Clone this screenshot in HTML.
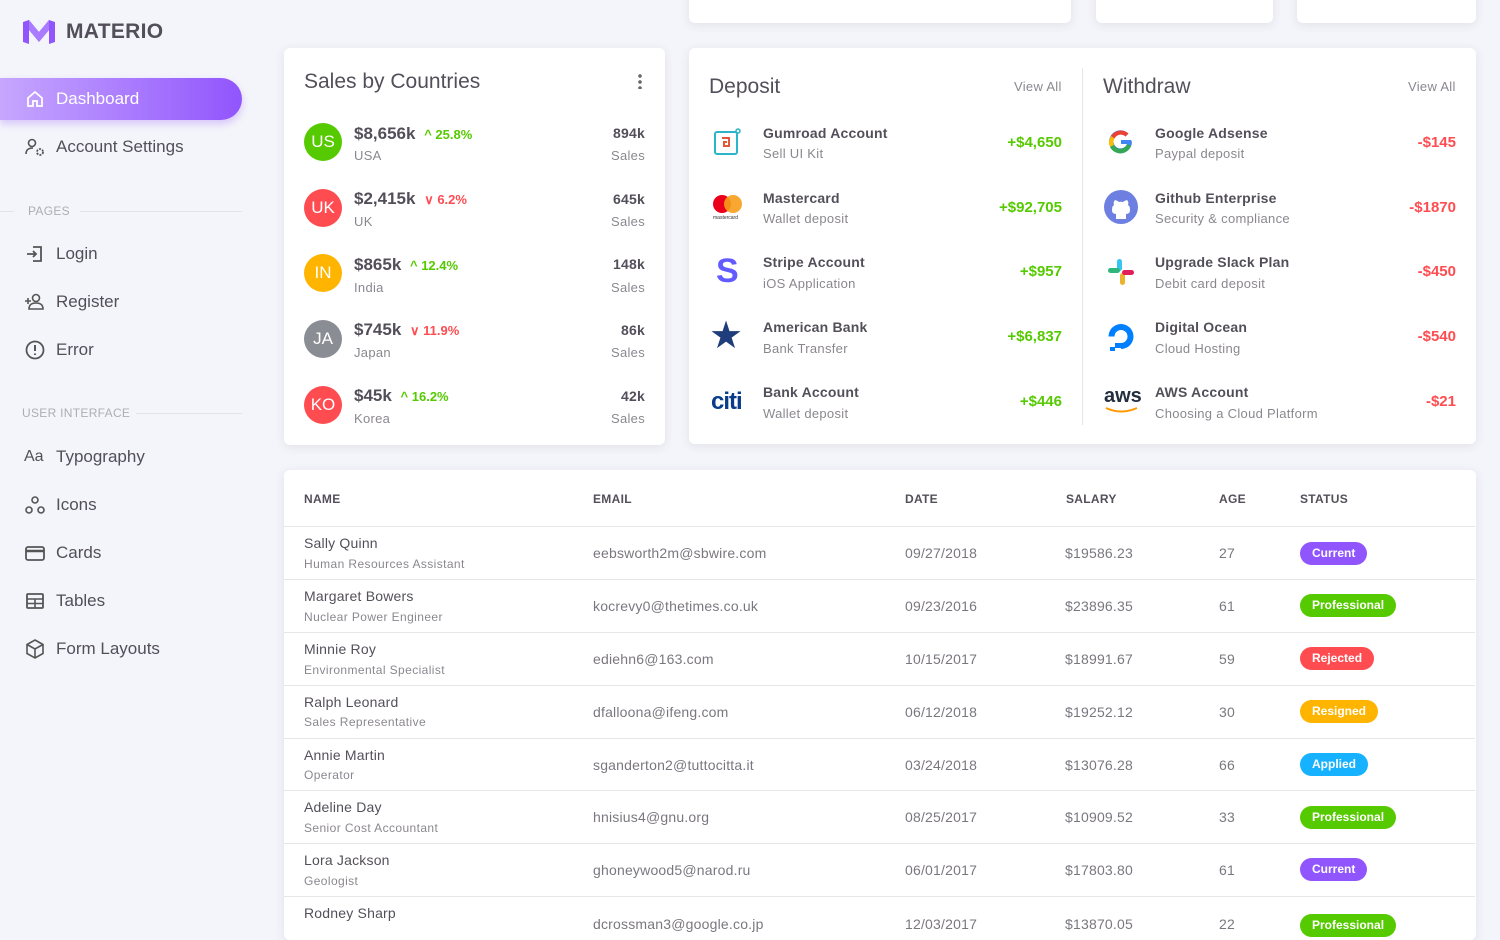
<!DOCTYPE html>
<html><head><meta charset="utf-8"><style>
*{box-sizing:border-box;margin:0;padding:0}
body{width:1500px;height:920px;overflow:hidden;background:#f4f5fa;font-family:"Liberation Sans",sans-serif;color:rgba(58,53,65,.87);position:relative}
.a{position:absolute;white-space:nowrap}
.card{position:absolute;background:#fff;border-radius:6px;box-shadow:0 2px 10px rgba(58,53,65,.1)}
.nav{position:absolute;left:24px;font-size:17px;color:rgba(58,53,65,.87);display:flex;align-items:center;height:24px}
.nav .ic{width:22px;height:22px;margin-right:10px;display:inline-block}
.sec{position:absolute;font-size:12px;color:rgba(58,53,65,.38);letter-spacing:.3px}
.hl{position:absolute;height:1px;background:#e3e2e6}
.av{position:absolute;width:38px;height:38px;border-radius:50%;color:#fff;font-size:17px;display:flex;align-items:center;justify-content:center;left:304px}
.v{position:absolute;left:354px;font-size:17px;font-weight:bold;color:rgba(58,53,65,.87)}
.s{position:absolute;font-size:13px;color:rgba(58,53,65,.6);letter-spacing:.3px}
.t{position:absolute;font-size:14px;font-weight:bold;color:rgba(58,53,65,.87);letter-spacing:.2px}
.amt{position:absolute;font-size:15px;font-weight:bold;text-align:right}
.th{position:absolute;top:492px;font-size:12px;font-weight:bold;color:rgba(58,53,65,.87);letter-spacing:.3px}
.rl{position:absolute;left:284px;width:1191px;height:1px;background:#e6e5e8}
.td{position:absolute;font-size:14px;color:rgba(58,53,65,.68);letter-spacing:.2px}
.nm{position:absolute;left:304px;font-size:14px;color:rgba(58,53,65,.87);letter-spacing:.2px}
.jb{position:absolute;left:304px;font-size:12px;color:rgba(58,53,65,.6);letter-spacing:.4px}
.bd{position:absolute;left:1300px;height:23px;border-radius:12px;color:#fff;font-size:12px;font-weight:bold;padding:0 12px;line-height:23px}
.pc{font-size:13px;margin-left:4px}
</style></head><body>

<div class="card" style="left:689px;top:-20px;width:382px;height:43px"></div>
<div class="card" style="left:1096px;top:-20px;width:177px;height:43px"></div>
<div class="card" style="left:1297px;top:-20px;width:179px;height:43px"></div>

<svg class="a" style="left:23px;top:20px" width="32" height="24" viewBox="0 0 32 24"><path d="M0 2 L6 0 L16 12 L26 0 L32 2 L32 22 L26 24 L26 10 L16 22 L6 10 L6 24 L0 22Z" fill="#9155fd"/><path d="M6 0 L16 12 L26 0 L26 10 L16 22 L6 10Z" fill="#b48bff" opacity=".7"/></svg>
<div class="a" style="left:66px;top:20px;font-size:21px;font-weight:bold;color:rgba(58,53,65,.87);letter-spacing:.3px">MATERIO</div>
<div class="a" style="left:0;top:78px;width:242px;height:42px;border-radius:0 21px 21px 0;background:linear-gradient(90deg,#c6a7fe,#9155fd);box-shadow:0 4px 8px rgba(145,85,253,.3)"></div>
<div class="nav" style="top:87px;color:#fff"><svg class="ic" viewBox="0 0 22 22"><path d="M4 10 L11 4 L18 10 V18 H13 V13 H9 V18 H4Z" fill="none" stroke="#fff" stroke-width="1.8"/></svg>Dashboard</div>
<div class="nav" style="top:135px"><svg class="ic" viewBox="0 0 22 22"><circle cx="8" cy="7" r="3.5" fill="none" stroke="#555" stroke-width="1.6"/><path d="M2 18 Q2 12 9 12" fill="none" stroke="#555" stroke-width="1.6"/><circle cx="16" cy="16" r="3" fill="none" stroke="#555" stroke-width="1.8" stroke-dasharray="2 1.2"/></svg>Account Settings</div>
<div class="hl" style="left:0;top:211px;width:14px"></div><div class="sec" style="left:28px;top:204px">PAGES</div><div class="hl" style="left:80px;top:211px;width:162px"></div>
<div class="nav" style="top:242px"><svg class="ic" viewBox="0 0 22 22"><path d="M9 4 H17 V18 H9 M3 11 H12 M9 8 L12 11 L9 14" fill="none" stroke="#555" stroke-width="1.8"/></svg>Login</div>
<div class="nav" style="top:290px"><svg class="ic" viewBox="0 0 22 22"><circle cx="12" cy="7" r="3.5" fill="none" stroke="#555" stroke-width="1.6"/><path d="M5 18 Q5 12 12 12 Q19 12 19 18Z M1 10 H7 M4 7 V13" fill="none" stroke="#555" stroke-width="1.6"/></svg>Register</div>
<div class="nav" style="top:338px"><svg class="ic" viewBox="0 0 22 22"><circle cx="11" cy="11" r="8.5" fill="none" stroke="#555" stroke-width="1.8"/><path d="M11 6 V12 M11 14.5 V16" stroke="#555" stroke-width="2"/></svg>Error</div>
<div class="sec" style="left:22px;top:406px">USER INTERFACE</div><div class="hl" style="left:136px;top:413px;width:106px"></div>
<div class="nav" style="top:445px"><span class="ic" style="font-size:16px;line-height:22px">Aa</span>Typography</div>
<div class="nav" style="top:493px"><svg class="ic" viewBox="0 0 22 22"><circle cx="11" cy="6" r="3" fill="none" stroke="#555" stroke-width="1.6"/><circle cx="5" cy="16" r="3" fill="none" stroke="#555" stroke-width="1.6"/><circle cx="17" cy="16" r="3" fill="none" stroke="#555" stroke-width="1.6"/></svg>Icons</div>
<div class="nav" style="top:541px"><svg class="ic" viewBox="0 0 22 22"><rect x="2" y="5" width="18" height="13" rx="2" fill="none" stroke="#555" stroke-width="1.8"/><path d="M2 9 H20" stroke="#555" stroke-width="2.5"/></svg>Cards</div>
<div class="nav" style="top:589px"><svg class="ic" viewBox="0 0 22 22"><rect x="3" y="4" width="16" height="14" rx="1" fill="none" stroke="#555" stroke-width="1.8"/><path d="M3 9 H19 M3 13.5 H19 M11 9 V18" stroke="#555" stroke-width="1.6"/></svg>Tables</div>
<div class="nav" style="top:637px"><svg class="ic" viewBox="0 0 22 22"><path d="M11 2 L19 6.5 V15.5 L11 20 L3 15.5 V6.5Z M3 6.5 L11 11 L19 6.5 M11 11 V20" fill="none" stroke="#555" stroke-width="1.6"/></svg>Form Layouts</div>

<div class="card" style="left:284px;top:48px;width:381px;height:397px"></div>
<div class="a" style="left:304px;top:70px;font-size:21px;color:rgba(58,53,65,.87)">Sales by Countries</div>
<div class="a" style="left:638px;top:73px;width:4px;height:16px;background:radial-gradient(circle,#666 1.6px,transparent 2px) 0 0/4px 6px"></div>

<div class="av" style="top:123px;background:#56ca00">US</div>
<div class="v" style="top:124px">$8,656k <span class="pc" style="color:#56ca00">^ 25.8%</span></div>
<div class="s" style="left:354px;top:148px">USA</div>
<div class="t" style="right:855px;top:125px">894k</div><div class="s" style="right:855px;top:148px">Sales</div>

<div class="av" style="top:189px;background:#ff4c51">UK</div>
<div class="v" style="top:189px">$2,415k <span class="pc" style="color:#ff4c51">&#8744; 6.2%</span></div>
<div class="s" style="left:354px;top:214px">UK</div>
<div class="t" style="right:855px;top:191px">645k</div><div class="s" style="right:855px;top:214px">Sales</div>

<div class="av" style="top:254px;background:#ffb400">IN</div>
<div class="v" style="top:255px">$865k <span class="pc" style="color:#56ca00">^ 12.4%</span></div>
<div class="s" style="left:354px;top:280px">India</div>
<div class="t" style="right:855px;top:256px">148k</div><div class="s" style="right:855px;top:280px">Sales</div>

<div class="av" style="top:320px;background:#8a8d93">JA</div>
<div class="v" style="top:320px">$745k <span class="pc" style="color:#ff4c51">&#8744; 11.9%</span></div>
<div class="s" style="left:354px;top:345px">Japan</div>
<div class="t" style="right:855px;top:322px">86k</div><div class="s" style="right:855px;top:345px">Sales</div>

<div class="av" style="top:386px;background:#ff4c51">KO</div>
<div class="v" style="top:386px">$45k <span class="pc" style="color:#56ca00">^ 16.2%</span></div>
<div class="s" style="left:354px;top:411px">Korea</div>
<div class="t" style="right:855px;top:388px">42k</div><div class="s" style="right:855px;top:411px">Sales</div>

<div class="card" style="left:689px;top:48px;width:787px;height:396px"></div>
<div class="a" style="left:1082px;top:68px;width:1px;height:357px;background:#e6e5e8"></div>
<div class="a" style="left:709px;top:75px;font-size:21px">Deposit</div>
<div class="s" style="left:1014px;top:79px">View All</div>
<div class="a" style="left:1103px;top:75px;font-size:21px">Withdraw</div>
<div class="s" style="left:1408px;top:79px">View All</div>

<svg class="a" style="left:713px;top:128px" width="30" height="30"><rect x="2" y="4" width="22" height="22" rx="2" fill="none" stroke="#2bb5c8" stroke-width="2"/><path d="M9 10 H16 V18 H11 V14 H14" fill="none" stroke="#e05a3a" stroke-width="2"/><circle cx="25" cy="3" r="2" fill="none" stroke="#2bb5c8" stroke-width="1.5"/></svg>
<div class="t" style="left:763px;top:125px">Gumroad Account</div><div class="s" style="left:763px;top:146px">Sell UI Kit</div>
<div class="amt" style="right:438px;top:134px;color:#56ca00">+$4,650</div>

<svg class="a" style="left:711px;top:193px" width="34" height="28"><circle cx="11" cy="11" r="9" fill="#eb001b"/><circle cx="22" cy="11" r="9" fill="#f79e1b" opacity=".9"/><text x="2" y="26" font-size="5" fill="#333" font-family="Liberation Sans">mastercard</text></svg>
<div class="t" style="left:763px;top:190px">Mastercard</div><div class="s" style="left:763px;top:211px">Wallet deposit</div>
<div class="amt" style="right:438px;top:199px;color:#56ca00">+$92,705</div>

<div class="a" style="left:716px;top:252px;font-size:34px;font-weight:bold;color:#635bff;line-height:38px">S</div>
<div class="t" style="left:763px;top:254px">Stripe Account</div><div class="s" style="left:763px;top:276px">iOS Application</div>
<div class="amt" style="right:438px;top:263px;color:#56ca00">+$957</div>

<div class="a" style="left:709px;top:316px;font-size:38px;color:#1f3d7a;line-height:40px">&#9733;</div>
<div class="t" style="left:763px;top:319px">American Bank</div><div class="s" style="left:763px;top:341px">Bank Transfer</div>
<div class="amt" style="right:438px;top:328px;color:#56ca00">+$6,837</div>

<div class="a" style="left:711px;top:388px;font-size:24px;color:#0a3c8c;font-weight:bold;letter-spacing:-1px">citi</div>
<div class="t" style="left:763px;top:384px">Bank Account</div><div class="s" style="left:763px;top:406px">Wallet deposit</div>
<div class="amt" style="right:438px;top:393px;color:#56ca00">+$446</div>

<svg class="a" style="left:1106px;top:127px" width="30" height="30" viewBox="0 0 30 30"><path d="M25 13 H15 V17 H21 A7 7 0 1 1 19.5 9.5 L22.5 6.5 A11.5 11.5 0 1 0 26 15Z" fill="#4285f4"/><path d="M5 9 A11.5 11.5 0 0 1 22.5 6.5 L19.5 9.5 A7 7 0 0 0 8.5 11.5Z" fill="#ea4335"/><path d="M4 20 A11.5 11.5 0 0 1 5 9 L8.5 11.5 A7 7 0 0 0 8 18Z" fill="#fbbc05"/><path d="M4 20 L8 18 A7 7 0 0 0 21 17 L25 19 A11.5 11.5 0 0 1 4 20Z" fill="#34a853"/></svg>
<div class="t" style="left:1155px;top:125px">Google Adsense</div><div class="s" style="left:1155px;top:146px">Paypal deposit</div>
<div class="amt" style="right:44px;top:134px;color:#ff4c51">-$145</div>

<svg class="a" style="left:1104px;top:190px" width="34" height="34"><circle cx="17" cy="17" r="17" fill="#6d7fe0"/><path d="M12 29 V24 Q8 24 8 20 Q8 16 10 15 Q9 12 11 10 Q14 11 15 12 Q17 11.5 19 12 Q20 11 23 10 Q25 12 24 15 Q26 16 26 20 Q26 24 22 24 V29Z" fill="#fff"/></svg>
<div class="t" style="left:1155px;top:190px">Github Enterprise</div><div class="s" style="left:1155px;top:211px">Security &amp; compliance</div>
<div class="amt" style="right:44px;top:199px;color:#ff4c51">-$1870</div>

<svg class="a" style="left:1106px;top:257px" width="30" height="30"><rect x="11" y="2" width="5" height="12" rx="2.5" fill="#36c5f0"/><rect x="2" y="11" width="12" height="5" rx="2.5" fill="#2eb67d"/><rect x="14" y="16" width="5" height="12" rx="2.5" fill="#ecb22e"/><rect x="16" y="13" width="12" height="5" rx="2.5" fill="#e01e5a"/></svg>
<div class="t" style="left:1155px;top:254px">Upgrade Slack Plan</div><div class="s" style="left:1155px;top:276px">Debit card deposit</div>
<div class="amt" style="right:44px;top:263px;color:#ff4c51">-$450</div>

<svg class="a" style="left:1105px;top:321px" width="32" height="32"><path d="M16 28 V22 A6.5 6.5 0 1 0 9.5 15.5 H3.5 A12.5 12.5 0 1 1 16 28Z" fill="#0080ff"/><rect x="10" y="22" width="6" height="5" fill="#0080ff"/><rect x="5" y="26" width="5" height="4" fill="#0080ff"/></svg>
<div class="t" style="left:1155px;top:319px">Digital Ocean</div><div class="s" style="left:1155px;top:341px">Cloud Hosting</div>
<div class="amt" style="right:44px;top:328px;color:#ff4c51">-$540</div>

<div class="a" style="left:1104px;top:385px;font-size:20px;color:#232f3e;font-weight:bold">aws</div>
<svg class="a" style="left:1104px;top:406px" width="36" height="8"><path d="M2 2 Q17 9 33 2" fill="none" stroke="#ff9900" stroke-width="2"/></svg>
<div class="t" style="left:1155px;top:384px">AWS Account</div><div class="s" style="left:1155px;top:406px">Choosing a Cloud Platform</div>
<div class="amt" style="right:44px;top:393px;color:#ff4c51">-$21</div>

<div class="card" style="left:284px;top:470px;width:1192px;height:470px"></div>
<div class="th" style="left:304px">NAME</div>
<div class="th" style="left:593px">EMAIL</div>
<div class="th" style="left:905px">DATE</div>
<div class="th" style="left:1066px">SALARY</div>
<div class="th" style="left:1219px">AGE</div>
<div class="th" style="left:1300px">STATUS</div>
<div class="rl" style="top:526px"></div>
<div class="rl" style="top:579px"></div>
<div class="rl" style="top:632px"></div>
<div class="rl" style="top:685px"></div>
<div class="rl" style="top:738px"></div>
<div class="rl" style="top:790px"></div>
<div class="rl" style="top:843px"></div>
<div class="rl" style="top:896px"></div>

<div class="nm" style="top:535px">Sally Quinn</div><div class="jb" style="top:557px">Human Resources Assistant</div>
<div class="td" style="left:593px;top:545px">eebsworth2m@sbwire.com</div><div class="td" style="left:905px;top:545px">09/27/2018</div><div class="td" style="left:1065px;top:545px">$19586.23</div><div class="td" style="left:1219px;top:545px">27</div>
<div class="bd" style="top:542px;background:#9155fd">Current</div>

<div class="nm" style="top:588px">Margaret Bowers</div><div class="jb" style="top:610px">Nuclear Power Engineer</div>
<div class="td" style="left:593px;top:598px">kocrevy0@thetimes.co.uk</div><div class="td" style="left:905px;top:598px">09/23/2016</div><div class="td" style="left:1065px;top:598px">$23896.35</div><div class="td" style="left:1219px;top:598px">61</div>
<div class="bd" style="top:594px;background:#56ca00">Professional</div>

<div class="nm" style="top:641px">Minnie Roy</div><div class="jb" style="top:663px">Environmental Specialist</div>
<div class="td" style="left:593px;top:651px">ediehn6@163.com</div><div class="td" style="left:905px;top:651px">10/15/2017</div><div class="td" style="left:1065px;top:651px">$18991.67</div><div class="td" style="left:1219px;top:651px">59</div>
<div class="bd" style="top:647px;background:#ff4c51">Rejected</div>

<div class="nm" style="top:694px">Ralph Leonard</div><div class="jb" style="top:715px">Sales Representative</div>
<div class="td" style="left:593px;top:704px">dfalloona@ifeng.com</div><div class="td" style="left:905px;top:704px">06/12/2018</div><div class="td" style="left:1065px;top:704px">$19252.12</div><div class="td" style="left:1219px;top:704px">30</div>
<div class="bd" style="top:700px;background:#ffb400">Resigned</div>

<div class="nm" style="top:747px">Annie Martin</div><div class="jb" style="top:768px">Operator</div>
<div class="td" style="left:593px;top:757px">sganderton2@tuttocitta.it</div><div class="td" style="left:905px;top:757px">03/24/2018</div><div class="td" style="left:1065px;top:757px">$13076.28</div><div class="td" style="left:1219px;top:757px">66</div>
<div class="bd" style="top:753px;background:#16b1ff">Applied</div>

<div class="nm" style="top:799px">Adeline Day</div><div class="jb" style="top:821px">Senior Cost Accountant</div>
<div class="td" style="left:593px;top:809px">hnisius4@gnu.org</div><div class="td" style="left:905px;top:809px">08/25/2017</div><div class="td" style="left:1065px;top:809px">$10909.52</div><div class="td" style="left:1219px;top:809px">33</div>
<div class="bd" style="top:806px;background:#56ca00">Professional</div>

<div class="nm" style="top:852px">Lora Jackson</div><div class="jb" style="top:874px">Geologist</div>
<div class="td" style="left:593px;top:862px">ghoneywood5@narod.ru</div><div class="td" style="left:905px;top:862px">06/01/2017</div><div class="td" style="left:1065px;top:862px">$17803.80</div><div class="td" style="left:1219px;top:862px">61</div>
<div class="bd" style="top:858px;background:#9155fd">Current</div>

<div class="nm" style="top:905px">Rodney Sharp</div>
<div class="td" style="left:593px;top:916px">dcrossman3@google.co.jp</div><div class="td" style="left:905px;top:916px">12/03/2017</div><div class="td" style="left:1065px;top:916px">$13870.05</div><div class="td" style="left:1219px;top:916px">22</div>
<div class="bd" style="top:914px;background:#56ca00">Professional</div>
</body></html>
